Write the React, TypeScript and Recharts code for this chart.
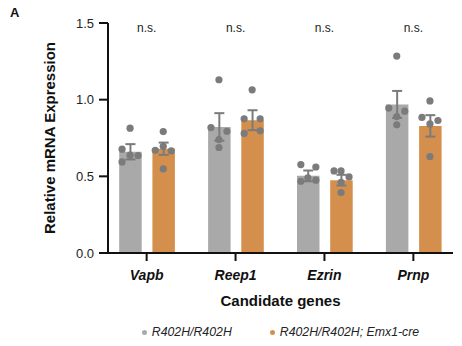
import { ComposedChart, Bar, Scatter, XAxis, YAxis, ErrorBar, Legend } from 'recharts';

const GENES = ['Vapb', 'Reep1', 'Ezrin', 'Prnp'];
const SIG = ['n.s.', 'n.s.', 'n.s.', 'n.s.'];
const SERIES = ['R402H/R402H', 'R402H/R402H; Emx1-cre'];
const Y_TICKS = [0, 0.5, 1.0, 1.5];

const MEAN_CTRL = [0.66, 0.822, 0.503, 0.969];
const SEM_CTRL = [0.05, 0.09, 0.035, 0.088];
const MEAN_CKO = [0.68, 0.866, 0.475, 0.829];
const SEM_CKO = [0.04, 0.065, 0.035, 0.07];

// individual replicates, one row per gene
const PTS_CTRL = [
  [0.814, 0.677, 0.638, 0.636, 0.594],
  [1.13, 0.818, 0.794, 0.74, 0.688],
  [0.577, 0.561, 0.468, 0.49, 0.475],
  [1.284, 0.945, 0.925, 0.89, 0.836],
];
const PTS_CKO = [
  [0.792, 0.67, 0.696, 0.666, 0.548],
  [1.064, 0.875, 0.875, 0.78, 0.797],
  [0.535, 0.535, 0.496, 0.461, 0.394],
  [0.992, 0.884, 0.864, 0.842, 0.629],
];

// horizontal jitter of the dots (px), style only
const JIT_CTRL = [[0, -8, 0, 8, -8], [0, -8, 8, 0, 0], [-7, 8, -7, 0, 8], [0, -8, 8, 0, 0]];
const JIT_CKO = [[0, -8, 0, 8, 0], [0, -8, 8, -8, 8], [-7, 0, 8, 0, 0], [0, -8, 8, 0, 0]];

const GRAY = '#a9a9a9';
const ORANGE = '#d48f4d';
const DOT = '#7b7b7b';
const INK = '#111';
const FONT = '"Liberation Sans", Arial, sans-serif';

const BAR_SIZE = 22.5;
const BAR_GAP = 10.7;
const SHIFT = (BAR_SIZE + BAR_GAP) / 2;
const PAD = { left: -5.8, right: -4.8 };

const data = GENES.map((gene, i) => ({
  gene,
  ctrl: MEAN_CTRL[i],
  ctrlErr: SEM_CTRL[i],
  cko: MEAN_CKO[i],
  ckoErr: SEM_CKO[i],
}));

const toPoints = (rows: number[][]) =>
  rows.flatMap((row, g) => row.map((value, r) => ({ gene: GENES[g], value, g, r })));

const ctrlPts = toPoints(PTS_CTRL);
const ckoPts = toPoints(PTS_CKO);

const dotShape = (shift: number, jit: number[][]) => (p: any) => (
  <circle
    cx={p.cx + shift + jit[p.payload.g][p.payload.r]}
    cy={p.cy}
    r={3.6}
    fill={DOT}
  />
);

const LegendContent = () => (
  <div
    style={{
      display: 'flex',
      justifyContent: 'center',
      alignItems: 'center',
      height: 20,
      fontFamily: FONT,
      fontSize: 12.3,
      fontStyle: 'italic',
      color: '#222',
    }}
  >
    {SERIES.map((name, i) => (
      <div key={name} style={{ display: 'flex', alignItems: 'center', marginRight: i === 0 ? 38 : 0 }}>
        <svg width={5} height={5} style={{ marginRight: 5 }}>
          <circle cx={2.5} cy={2.5} r={2.5} fill={i === 0 ? GRAY : ORANGE} />
        </svg>
        <span>{name}</span>
      </div>
    ))}
  </div>
);

const SigTick = (p: any) => {
  const i = GENES.indexOf(p.payload?.value);
  return (
    <text x={p.x} y={p.y + 9} textAnchor="middle" fontSize={12} fill="#222" fontFamily={FONT}>
      {SIG[i] ?? ''}
    </text>
  );
};

export default function App() {
  return (
    <div style={{ position: 'absolute', left: 0, top: 0, width: 462, height: 346, background: '#fff' }}>
      <div style={{ position: 'absolute', left: 10, top: 5, fontFamily: FONT, fontWeight: 700, fontSize: 13, color: INK }}>
        A
      </div>
      <ComposedChart
        width={462}
        height={346}
        data={data}
        margin={{ top: 13, right: 9, bottom: 4, left: 0 }}
        barSize={BAR_SIZE}
        barGap={BAR_GAP}
        style={{ fontFamily: FONT }}
      >
        <XAxis
          dataKey="gene"
          allowDuplicatedCategory={false}
          padding={PAD}
          height={69}
          tickSize={8}
          tickMargin={9}
          axisLine={{ stroke: INK, strokeWidth: 2 }}
          tickLine={{ stroke: INK, strokeWidth: 2 }}
          tick={{ fontSize: 14, fontWeight: 700, fontStyle: 'italic', fill: INK }}
          label={{
            content: ({ viewBox }: any) => (
              <text
                x={viewBox.x + viewBox.width / 2}
                y={viewBox.y + 53}
                textAnchor="middle"
                fontSize={15}
                fontWeight={700}
                fill={INK}
              >
                Candidate genes
              </text>
            ),
          }}
        />
        <XAxis
          xAxisId="top"
          orientation="top"
          dataKey="gene"
          allowDuplicatedCategory={false}
          padding={PAD}
          height={10}
          tickSize={0}
          tickMargin={0}
          axisLine={false}
          tickLine={false}
          tick={SigTick}
        />
        <YAxis
          width={108}
          domain={[0, 1.5]}
          ticks={Y_TICKS}
          tickFormatter={(v: number) => v.toFixed(1)}
          tickSize={9}
          tickMargin={5}
          axisLine={{ stroke: INK, strokeWidth: 2 }}
          tickLine={{ stroke: INK, strokeWidth: 2 }}
          tick={{ fontSize: 13, fill: '#222' }}
          label={{
            content: ({ viewBox }: any) => (
              <text
                transform={`translate(${viewBox.x + 49},${viewBox.y + viewBox.height / 2}) rotate(-90)`}
                textAnchor="middle"
                dominantBaseline="central"
                fontSize={15}
                fontWeight={700}
                fill={INK}
              >
                Relative mRNA Expression
              </text>
            ),
          }}
        />
        <Bar dataKey="ctrl" name={SERIES[0]} fill={GRAY} isAnimationActive={false}>
          <ErrorBar dataKey="ctrlErr" width={5} stroke={DOT} strokeWidth={2} direction="y" />
        </Bar>
        <Bar dataKey="cko" name={SERIES[1]} fill={ORANGE} isAnimationActive={false}>
          <ErrorBar dataKey="ckoErr" width={5} stroke={DOT} strokeWidth={2} direction="y" />
        </Bar>
        <Scatter data={ctrlPts} dataKey="value" shape={dotShape(-SHIFT, JIT_CTRL)} isAnimationActive={false} />
        <Scatter data={ckoPts} dataKey="value" shape={dotShape(SHIFT, JIT_CKO)} isAnimationActive={false} />
        <Legend
          verticalAlign="bottom"
          content={LegendContent}
          wrapperStyle={{ left: 108, width: 345 }}
        />
      </ComposedChart>
    </div>
  );
}
